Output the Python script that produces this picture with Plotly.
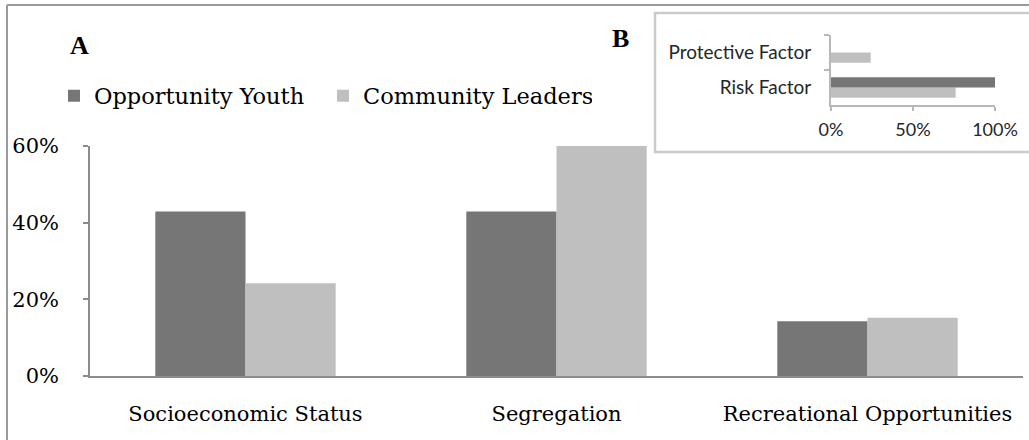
import plotly.graph_objects as go

# ---- data ----
categories = ["Socioeconomic Status", "Segregation", "Recreational Opportunities"]
opportunity_youth = [42.9, 42.9, 14.3]
community_leaders = [24.2, 60.0, 15.2]
y_ticks = [0, 20, 40, 60]
y_tick_labels = ["0%", "20%", "40%", "60%"]

inset_categories = ["Risk Factor", "Protective Factor"]
inset_youth = [1.00, 0.0]
inset_leaders = [0.76, 0.242]
inset_ticks = [0, 0.5, 1.0]
inset_tick_labels = ["0%", "50%", "100%"]

DARK = "#767676"
LIGHT = "#bfbfbf"
AXIS = "#8c8c8c"
W, H = 1029, 440
SERIF = "DejaVu Serif"
SANS = "Lato"


def px(x):
    return x / W


def py(y):
    return 1 - y / H


fig = go.Figure()
fig.add_trace(go.Bar(x=categories, y=opportunity_youth, name="Opportunity Youth",
                     marker=dict(color=DARK, line=dict(width=0)), xaxis="x", yaxis="y"))
fig.add_trace(go.Bar(x=categories, y=community_leaders, name="Community Leaders",
                     marker=dict(color=LIGHT, line=dict(width=0)), xaxis="x", yaxis="y"))

# inset (light first so the dark bar sits above it in each group)
fig.add_trace(go.Bar(y=inset_categories, x=inset_leaders, orientation="h", showlegend=False,
                     marker=dict(color=LIGHT, line=dict(width=0)), xaxis="x2", yaxis="y2"))
fig.add_trace(go.Bar(y=inset_categories, x=inset_youth, orientation="h", showlegend=False,
                     marker=dict(color=DARK, line=dict(width=0)), xaxis="x2", yaxis="y2"))

fig.update_layout(
    width=W, height=H, autosize=False,
    margin=dict(l=0, r=0, t=0, b=0, pad=0, autoexpand=False),
    paper_bgcolor="white", plot_bgcolor="rgba(0,0,0,0)",
    barmode="group", bargap=0.42, bargroupgap=0,
    font=dict(family=SERIF, size=21, color="black"),
    xaxis=dict(domain=[px(90), px(1023)], showline=True, linecolor=AXIS, linewidth=2,
               ticks="", showgrid=False, zeroline=False, ticklabelstandoff=18,
               automargin=False,
               tickfont=dict(family=SERIF, size=21, color="black"), anchor="y"),
    yaxis=dict(domain=[py(376), py(146)], range=[0, 60], showline=True, linecolor=AXIS,
               linewidth=1.5, ticks="outside", ticklen=5, tickcolor=AXIS, tickwidth=1.5,
               tickvals=y_ticks, ticktext=y_tick_labels, showgrid=False, zeroline=False,
               ticklabelstandoff=20, automargin=False,
               tickfont=dict(family=SERIF, size=21, color="black"), anchor="x"),
    xaxis2=dict(domain=[px(831), px(995)], range=[0, 1], showline=True, linecolor="#b8b8b8",
                linewidth=2, ticks="outside", ticklen=4, tickcolor="#b8b8b8", tickwidth=2,
                tickvals=inset_ticks, ticktext=inset_tick_labels, showgrid=False,
                zeroline=False, ticklabelstandoff=3, anchor="y2", automargin=False,
                tickfont=dict(family=SANS, size=18, color="#262626")),
    yaxis2=dict(domain=[py(105), py(35)], showline=True, linecolor="#b8b8b8", linewidth=2,
                ticks="outside", ticklen=5, tickcolor="#b8b8b8", tickwidth=2,
                tickson="boundaries", categoryorder="array", categoryarray=inset_categories,
                showgrid=False, zeroline=False, ticklabelstandoff=14, anchor="x2",
                automargin=False,
                tickfont=dict(family=SANS, size=19, color="#262626")),
    legend=dict(orientation="h", x=px(54), y=py(96), xanchor="left", yanchor="middle",
                font=dict(family=SERIF, size=22.5, color="black"), bgcolor="rgba(0,0,0,0)",
                traceorder="normal", itemclick=False, entrywidth=224,
                entrywidthmode="pixels"),
    shapes=[
        dict(type="line", xref="paper", yref="paper", x0=px(7), x1=px(7), y0=py(5), y1=py(445),
             line=dict(color="#9a9a9a", width=2)),
        dict(type="line", xref="paper", yref="paper", x0=px(7), x1=px(1035), y0=py(5), y1=py(5),
             line=dict(color="#9a9a9a", width=2)),
        dict(type="rect", xref="paper", yref="paper", x0=px(655), x1=px(1070), y0=py(152),
             y1=py(13), line=dict(color="#cacaca", width=2.5), fillcolor="white", layer="below"),
    ],
    annotations=[
        dict(text="<b>A</b>", xref="paper", yref="paper", x=px(79), y=py(46), showarrow=False,
             xanchor="center", yanchor="middle",
             font=dict(family="Liberation Serif", size=26, color="black")),
        dict(text="<b>B</b>", xref="paper", yref="paper", x=px(620), y=py(39), showarrow=False,
             xanchor="center", yanchor="middle",
             font=dict(family="Liberation Serif", size=26, color="black")),
    ],
)

fig.write_html("out.html", config={"displayModeBar": False},
               post_script="document.body.style.margin='0';")
